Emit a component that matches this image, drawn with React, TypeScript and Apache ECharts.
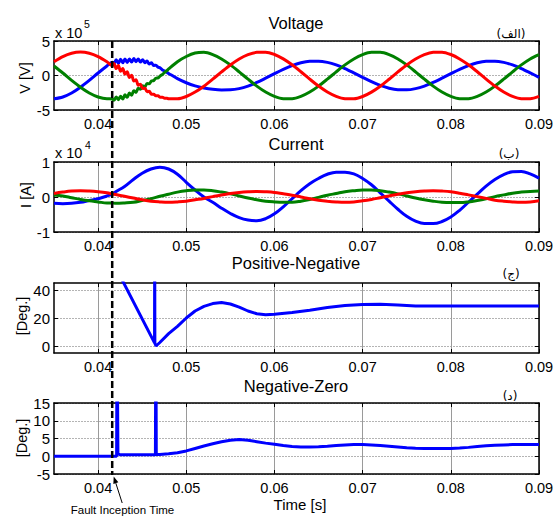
import React, { useEffect, useRef } from "react";
import * as echarts from "echarts";

const FONT = "'Liberation Sans', Arial, Helvetica, sans-serif";

const X_MIN = 0.035;
const X_MAX = 0.09;
const X_TICKS = [0.04, 0.05, 0.06, 0.07, 0.08, 0.09];
const FAULT_TIME = 0.0416;

// ---------- Voltage (x 10^5 V), time in ms ----------
const V_TIME_MS = [
  35, 36, 37, 38, 39, 40, 41, 41.6,
  41.8, 42.05, 42.3, 42.55, 42.8, 43.05, 43.3, 43.55, 43.8, 44.05, 44.3, 44.55, 44.8,
  45.05, 45.3, 45.55, 45.8, 46.05, 46.3, 46.55, 46.8, 47.05, 47.3, 47.55, 47.8,
  48, 49, 50, 51, 52, 53, 54, 55, 56, 57, 58, 59, 60, 61, 62, 63, 64, 65, 66, 67, 68, 69,
  70, 71, 72, 73, 74, 75, 76, 77, 78, 79, 80, 81, 82, 83, 84, 85, 86, 87, 88, 89, 90,
];
const V_RED = [
  2.0, 2.75, 3.23, 3.4, 3.23, 2.75, 2.0, 1.45,
  1.75, 1.0, 1.45, 0.6, 1.0, 0.2, 0.55, -0.3, 0.05, -0.8, -0.6, -1.4, -1.25,
  -1.9, -1.8, -2.35, -2.3, -2.7, -2.7, -2.95, -2.95, -3.15, -3.15, -3.3, -3.3,
  -3.36, -3.37, -3.04, -2.4, -1.55, -0.53, 0.52, 1.53, 2.4, 3.02, 3.36, 3.38, 3.04, 2.41, 1.55, 0.54, -0.52, -1.53, -2.39, -3.02, -3.36, -3.37,
  -3.04, -2.41, -1.55, -0.54, 0.52, 1.53, 2.39, 3.02, 3.36, 3.38, 3.04, 2.4, 1.55, 0.54, -0.52, -1.53, -2.4, -3.02, -3.36, -3.37, -3.03,
];
const V_BLUE = [
  -3.38, -3.11, -2.53, -1.7, -0.71, 0.36, 1.38, 1.93,
  1.7, 2.3, 1.75, 2.35, 1.85, 2.4, 1.9, 2.4, 1.95, 2.45, 2.0, 2.4, 1.95,
  2.3, 1.85, 2.1, 1.65, 1.85, 1.45, 1.5, 1.2, 1.1, 0.8, 0.65, 0.45,
  0.3, -0.45, -1.05, -1.5, -1.8, -2.0, -2.1, -2.08, -1.9, -1.53, -1.01, -0.39, 0.26, 0.89, 1.44, 1.84, 2.06, 2.08, 1.9, 1.53, 1.01, 0.39,
  -0.26, -0.89, -1.44, -1.84, -2.06, -2.08, -1.9, -1.53, -1.01, -0.39, 0.26, 0.89, 1.44, 1.84, 2.06, 2.08, 1.9, 1.53, 1.01, 0.39, -0.26,
];
const V_GREEN = [
  1.38, 0.36, -0.71, -1.7, -2.53, -3.11, -3.38, -3.39,
  -3.6, -3.1, -3.5, -3.0, -3.4, -2.8, -3.15, -2.55, -2.85, -2.2, -2.45, -1.85, -2.0,
  -1.5, -1.65, -1.15, -1.2, -0.8, -0.75, -0.4, -0.35, -0.05, 0.15, 0.45, 0.7,
  0.95, 2.0, 2.75, 3.25, 3.36, 3.03, 2.4, 1.54, 0.53, -0.53, -1.54, -2.4, -3.03, -3.36, -3.36, -3.03, -2.4, -1.54, -0.53, 0.53, 1.54, 2.4,
  3.03, 3.36, 3.36, 3.03, 2.4, 1.54, 0.53, -0.53, -1.54, -2.4, -3.03, -3.36, -3.36, -3.03, -2.4, -1.54, -0.53, 0.53, 1.54, 2.4, 3.03,
];

// ---------- Current (x 10^4 A), time in ms ----------
const I_TIME_MS = [
  35, 36, 37, 38, 39, 40, 41, 41.6,
  42, 43, 44, 45, 46, 47, 48, 49, 50, 51, 52, 53, 54, 55, 56, 57, 58, 59,
  60, 61, 62, 63, 64, 65, 66, 67, 68, 69, 70, 71, 72, 73, 74, 75, 76, 77, 78, 79,
  80, 81, 82, 83, 84, 85, 86, 87, 88, 89, 90,
];
const I_BLUE = [
  -0.18, -0.19, -0.18, -0.15, -0.1, -0.05, 0.03, 0.08,
  0.15, 0.3, 0.5, 0.68, 0.8, 0.85, 0.8, 0.65, 0.42, 0.2, 0.0, -0.15, -0.32, -0.47, -0.59, -0.66, -0.68, -0.62,
  -0.48, -0.28, -0.05, 0.18, 0.38, 0.53, 0.65, 0.71, 0.71, 0.66, 0.53, 0.35, 0.12, -0.12, -0.35, -0.55, -0.69, -0.76, -0.76, -0.7,
  -0.57, -0.38, -0.15, 0.08, 0.31, 0.5, 0.64, 0.72, 0.73, 0.66, 0.54,
];
const I_RED = [
  0.1, 0.14, 0.17, 0.18, 0.17, 0.15, 0.12, 0.09,
  0.07, 0.02, -0.03, -0.08, -0.12, -0.14, -0.15, -0.14, -0.12, -0.08, -0.04, 0.01, 0.06, 0.1, 0.13, 0.15, 0.16, 0.15,
  0.13, 0.09, 0.05, 0.0, -0.05, -0.09, -0.12, -0.14, -0.15, -0.14, -0.11, -0.07, -0.02, 0.03, 0.08, 0.12, 0.15, 0.17, 0.18, 0.17,
  0.15, 0.11, 0.06, 0.01, -0.04, -0.09, -0.12, -0.14, -0.15, -0.14, -0.11,
];
const I_GREEN = [
  0.06, 0.03, -0.02, -0.07, -0.11, -0.14, -0.17, -0.17,
  -0.18, -0.17, -0.15, -0.1, -0.05, 0.02, 0.08, 0.14, 0.18, 0.2, 0.2, 0.18, 0.14, 0.09, 0.03, -0.03, -0.08, -0.12,
  -0.14, -0.15, -0.15, -0.12, -0.07, -0.01, 0.05, 0.1, 0.15, 0.18, 0.2, 0.2, 0.18, 0.14, 0.09, 0.03, -0.03, -0.08, -0.12, -0.15,
  -0.16, -0.16, -0.14, -0.1, -0.05, 0.01, 0.06, 0.11, 0.14, 0.16, 0.17,
];

// ---------- Positive-Negative angle (deg) ----------
const PN_TIME_MS = [
  41.6, 46.4, 46.42, 46.44, 46.57, 47, 48, 49, 50, 51, 52, 53, 54, 55, 56, 57, 58, 59, 60,
  62, 64, 66, 68, 70, 72, 74, 76, 80, 85, 90,
];
const PN_DEG = [
  61, 2.2, 80, 2.0, 0, 2.5, 8.8, 14, 20, 25, 28.3, 30.3, 31, 30, 27.8, 25, 23, 22.3, 22.6,
  24, 25.6, 27.5, 29, 29.7, 29.8, 29.3, 28.5, 28.5, 28.5, 28.5,
];

// ---------- Negative-Zero angle (deg) ----------
const NZ_TIME_MS = [
  35, 42.1, 42.15, 42.25, 42.5, 43, 44, 45, 46, 46.5, 46.55, 46.6, 47, 48, 49,
  50, 51, 52, 53, 54, 55, 56, 57, 58, 59, 60, 61, 62, 63, 64, 65, 66, 67, 68, 69,
  70, 71, 72, 73, 74, 75, 76, 77, 78, 79, 80, 81, 82, 83, 84, 85, 86, 87, 88, 89, 90,
];
const NZ_DEG = [
  0, 0, 40, 0.7, 0.4, 0.4, 0.4, 0.4, 0.45, 0.45, 40, 0.5, 0.5, 0.7, 1.0,
  1.5, 2.2, 2.9, 3.5, 4.1, 4.5, 4.7, 4.5, 4.1, 3.7, 3.35, 3.0, 2.75, 2.6, 2.6, 2.65, 2.8, 3.0, 3.15, 3.3,
  3.3, 3.2, 3.0, 2.8, 2.6, 2.4, 2.25, 2.2, 2.2, 2.2, 2.2, 2.3, 2.5, 2.75, 2.95, 3.1, 3.2, 3.3, 3.3, 3.3, 3.3,
];

const TITLES = ["Voltage", "Current", "Positive-Negative", "Negative-Zero"];
const Y_NAMES = ["V [V]", "I [A]", "[Deg.]", "[Deg.]"];
const PANEL_TAGS = ["(الف)", "(ب)", "(ج)", "(د)"];
const Y_TICKS = [
  [-5, 0, 5],
  [-1, 0, 1],
  [0, 20, 40],
  [-5, 0, 5, 10, 15],
];
const Y_RANGES = [
  [-5, 5],
  [-1, 1],
  [-5, 45],
  [-5, 15],
];

const BLUE = "#0000ff";
const RED = "#ff0000";
const GREEN = "#008000";

const GRIDS = [
  { left: 54, top: 41, width: 485, height: 69 },
  { left: 54, top: 162, width: 485, height: 70 },
  { left: 54, top: 283, width: 485, height: 70 },
  { left: 54, top: 403, width: 485, height: 71 },
];

const toPairs = (tms: number[], vals: number[]) => tms.map((t, i) => [t / 1000, vals[i]]);

export default function App() {
  const ref = useRef<HTMLDivElement>(null);

  useEffect(() => {
    if (!ref.current) return;
    const chart = echarts.init(ref.current, undefined, { renderer: "svg" });

    const lineAxis = { show: true, onZero: false, lineStyle: { color: "#000", width: 1.5 } };
    const xAxes: any[] = [];
    const yAxes: any[] = [];
    for (let i = 0; i < 4; i++) {
      xAxes.push({
        type: "value",
        gridIndex: i,
        position: "bottom",
        min: X_MIN,
        max: X_MAX,
        axisLine: lineAxis,
        axisTick: { show: true, inside: true, length: 4, customValues: X_TICKS, lineStyle: { color: "#000", width: 1 } },
        axisLabel: {
          show: true,
          customValues: X_TICKS,
          formatter: (v: number) => v.toFixed(2),
          color: "#000",
          fontSize: 14.5,
          fontFamily: FONT,
          margin: 6,
        },
        splitLine: { show: true, lineStyle: { color: "#9a9a9a", width: 1 } },
      });
      xAxes.push({
        type: "value",
        gridIndex: i,
        position: "top",
        min: X_MIN,
        max: X_MAX,
        axisLine: lineAxis,
        axisTick: { show: true, inside: true, length: 4, customValues: X_TICKS, lineStyle: { color: "#000", width: 1 } },
        axisLabel: { show: false },
        splitLine: { show: false },
      });
      yAxes.push({
        type: "value",
        gridIndex: i,
        position: "left",
        min: Y_RANGES[i][0],
        max: Y_RANGES[i][1],
        axisLine: lineAxis,
        axisTick: { show: true, inside: true, length: 4, customValues: Y_TICKS[i], lineStyle: { color: "#000", width: 1 } },
        axisLabel: { show: true, customValues: Y_TICKS[i], color: "#000", fontSize: 15, fontFamily: FONT, margin: 4 },
        splitLine: { show: true, lineStyle: { color: "#b4b4b4", width: 1, type: [2, 1] } },
      });
      yAxes.push({
        type: "value",
        gridIndex: i,
        position: "right",
        min: Y_RANGES[i][0],
        max: Y_RANGES[i][1],
        axisLine: lineAxis,
        axisTick: { show: true, inside: true, length: 4, customValues: Y_TICKS[i], lineStyle: { color: "#000", width: 1 } },
        axisLabel: { show: false },
        splitLine: { show: false },
      });
    }

    const mk = (axis: number, data: number[][], color: string, smooth: boolean | number, width = 3) => ({
      type: "line",
      xAxisIndex: axis * 2,
      yAxisIndex: axis * 2,
      data,
      smooth,
      showSymbol: false,
      symbol: "none",
      clip: true,
      lineStyle: { color, width },
      itemStyle: { color },
      z: 3,
    });

    const series = [
      mk(0, toPairs(V_TIME_MS, V_BLUE), BLUE, 0.3),
      mk(0, toPairs(V_TIME_MS, V_GREEN), GREEN, 0.3),
      mk(0, toPairs(V_TIME_MS, V_RED), RED, 0.3),
      mk(1, toPairs(I_TIME_MS, I_BLUE), BLUE, 0.4),
      mk(1, toPairs(I_TIME_MS, I_GREEN), GREEN, 0.4),
      mk(1, toPairs(I_TIME_MS, I_RED), RED, 0.4),
      mk(2, toPairs(PN_TIME_MS, PN_DEG), BLUE, false, 3),
      mk(3, toPairs(NZ_TIME_MS, NZ_DEG), BLUE, false, 3),
    ];

    chart.setOption({
      animation: false,
      backgroundColor: "#fff",
      grid: GRIDS.map((g) => ({ ...g, containLabel: false, show: false })),
      xAxis: xAxes,
      yAxis: yAxes,
      series,
    });

    // annotation geometry from the axes
    const xf = chart.convertToPixel({ xAxisIndex: 0 }, FAULT_TIME) as number;
    const yTop = chart.convertToPixel({ yAxisIndex: 0 }, Y_RANGES[0][1]) as number;
    const yBot = chart.convertToPixel({ yAxisIndex: 6 }, Y_RANGES[3][0]) as number;

    const txt = (x: number, y: number, text: string, size: number, extra: any = {}, align = "center") => ({
      type: "text",
      x,
      y,
      silent: true,
      z: 50,
      style: { text, fontSize: size, fontFamily: FONT, fill: "#000", align, verticalAlign: "middle" },
      ...extra,
    });

    const titleY = [22.5, 144, 263, 386];
    const yNamePos = [
      [25, 78],
      [26, 195],
      [22, 316],
      [22, 438],
    ];
    const tagPos = [
      [511, 34],
      [509, 154],
      [511, 274],
      [510, 396],
    ];

    const elements: any[] = [];
    for (let i = 0; i < 4; i++) {
      elements.push(txt(296, titleY[i], TITLES[i], 16.5));
      elements.push(txt(yNamePos[i][0], yNamePos[i][1], Y_NAMES[i], 14.5, { rotation: Math.PI / 2 }));
      elements.push({
        type: "text",
        x: tagPos[i][0],
        y: tagPos[i][1],
        silent: true,
        z: 50,
        style: {
          text: PANEL_TAGS[i],
          fontSize: 12,
          fontFamily: "'DejaVu Sans', 'Noto Sans', sans-serif",
          fill: "#000",
          align: "center",
          verticalAlign: "middle",
        },
      });
    }
    // exponent labels
    elements.push(txt(55, 33, "x 10", 14.5, {}, "left"));
    elements.push(txt(84, 24, "5", 10.5, {}, "left"));
    elements.push(txt(55, 153, "x 10", 14.5, {}, "left"));
    elements.push(txt(85, 145, "4", 10.5, {}, "left"));
    // x axis title
    elements.push(txt(300, 504, "Time [s]", 15));
    // fault line
    elements.push({
      type: "line",
      silent: true,
      z: 60,
      shape: { x1: xf, y1: yTop, x2: xf, y2: yBot + 1 },
      style: { stroke: "#000", lineWidth: 2.5, lineDash: [7, 3] },
    });
    // arrow
    const tipX = xf + 1.5;
    const tipY = yBot + 2.5;
    const tailX = xf + 10;
    const tailY = 503;
    const dx = tipX - tailX;
    const dy = tipY - tailY;
    const len = Math.sqrt(dx * dx + dy * dy);
    const ux = dx / len;
    const uy = dy / len;
    const hl = 7;
    const hw = 2.6;
    const bx = tipX - ux * hl;
    const by = tipY - uy * hl;
    elements.push({
      type: "line",
      silent: true,
      z: 60,
      shape: { x1: tailX, y1: tailY, x2: bx, y2: by },
      style: { stroke: "#000", lineWidth: 1 },
    });
    elements.push({
      type: "polygon",
      silent: true,
      z: 60,
      shape: {
        points: [
          [tipX, tipY],
          [bx - uy * hw, by + ux * hw],
          [bx + uy * hw, by - ux * hw],
        ],
      },
      style: { fill: "#000" },
    });
    elements.push(txt(122.5, 510, "Fault Inception Time", 11.5));

    chart.setOption({ graphic: { elements } });

    return () => chart.dispose();
  }, []);

  return (
    <div
      ref={ref}
      style={{ position: "fixed", left: 0, top: 0, width: 558, height: 516, background: "#fff" }}
    />
  );
}
